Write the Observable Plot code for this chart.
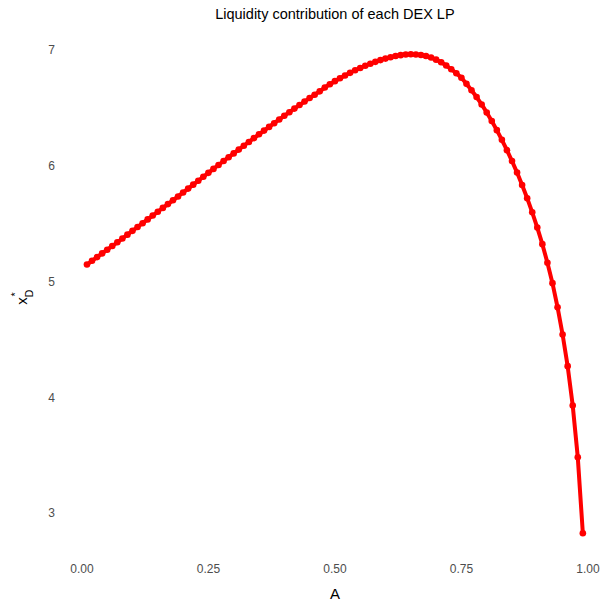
<!DOCTYPE html>
<html>
<head>
<meta charset="utf-8">
<script src="https://cdn.jsdelivr.net/npm/d3@7"></script>
<script src="https://cdn.jsdelivr.net/npm/@observablehq/plot@0.6"></script>
<style>
  html, body { margin: 0; padding: 0; background: #fff; }
  #chart { width: 600px; height: 605px; }
</style>
</head>
<body>
<div id="chart"></div>
<script>
const titleText = "Liquidity contribution of each DEX LP";
const xLabel = "A";
const xTicks = [0, 0.25, 0.5, 0.75, 1];
const yTicks = [3, 4, 5, 6, 7];

const A = [0.01,0.02,0.03,0.04,0.05,0.06,0.07,0.08,0.09,0.10,
  0.11,0.12,0.13,0.14,0.15,0.16,0.17,0.18,0.19,0.20,
  0.21,0.22,0.23,0.24,0.25,0.26,0.27,0.28,0.29,0.30,
  0.31,0.32,0.33,0.34,0.35,0.36,0.37,0.38,0.39,0.40,
  0.41,0.42,0.43,0.44,0.45,0.46,0.47,0.48,0.49,0.50,
  0.51,0.52,0.53,0.54,0.55,0.56,0.57,0.58,0.59,0.60,
  0.61,0.62,0.63,0.64,0.65,0.66,0.67,0.68,0.69,0.70,
  0.71,0.72,0.73,0.74,0.75,0.76,0.77,0.78,0.79,0.80,
  0.81,0.82,0.83,0.84,0.85,0.86,0.87,0.88,0.89,0.90,
  0.91,0.92,0.93,0.94,0.95,0.96,0.97,0.98,0.99];

const xD = [5.151,5.183,5.215,5.247,5.279,5.311,5.343,5.376,5.409,5.442,
  5.475,5.508,5.541,5.574,5.607,5.640,5.673,5.706,5.739,5.773,
  5.807,5.841,5.875,5.909,5.943,5.977,6.011,6.045,6.078,6.111,
  6.144,6.177,6.210,6.243,6.276,6.308,6.340,6.372,6.404,6.436,
  6.467,6.498,6.529,6.559,6.589,6.618,6.647,6.680,6.708,6.735,
  6.760,6.784,6.807,6.829,6.849,6.868,6.886,6.902,6.917,6.930,
  6.942,6.952,6.960,6.965,6.967,6.966,6.961,6.952,6.939,6.921,
  6.898,6.870,6.838,6.803,6.764,6.712,6.657,6.598,6.534,6.465,
  6.391,6.312,6.228,6.139,6.045,5.945,5.838,5.724,5.602,5.470,
  5.327,5.166,4.990,4.782,4.546,4.273,3.933,3.486,2.830];

const data = A.map((a, i) => ({A: a, xD: xD[i]}));

const plot = Plot.plot({
  width: 600,
  height: 605,
  marginLeft: 81.4,
  marginRight: 12.6,
  marginTop: 50,
  marginBottom: 92,
  style: {fontFamily: "'Liberation Sans', Arial, sans-serif", background: "#fff"},
  x: {domain: [0, 1]},
  y: {domain: [3, 7]},
  marks: [
    Plot.axisX({ticks: xTicks, tickFormat: d3.format(".2f"), tickSize: 0, tickPadding: 51, fontSize: 12, color: "#4d4d4d", label: null}),
    Plot.axisY({ticks: yTicks, tickFormat: d3.format("d"), tickSize: 0, tickPadding: 27, fontSize: 12, color: "#4d4d4d", label: null}),
    Plot.line(data, {x: "A", y: "xD", stroke: "#ff0000", strokeWidth: 4}),
    Plot.dot(data, {x: "A", y: "xD", fill: "#ff0000", r: 3.3}),
    Plot.text([titleText], {frameAnchor: "top", dy: -36, text: d => d, fontSize: 14.5, fill: "#000", lineAnchor: "middle"}),
    Plot.text([xLabel], {frameAnchor: "bottom", dy: 81, text: d => d, fontSize: 15, fill: "#000", lineAnchor: "middle"})
  ]
});

document.getElementById("chart").appendChild(plot);

// y-axis label: x with subscript D and superscript *
const svg = d3.select(plot);
const g = svg.append("g")
  .attr("transform", "rotate(-90)")
  .attr("font-family", "'Liberation Sans', Arial, sans-serif")
  .attr("fill", "#000");
g.append("text").attr("x", -301).attr("y", 27).attr("font-size", 15).text("x");
g.append("text").attr("x", -293.5).attr("y", 32.5).attr("font-size", 10.5).text("D");
g.append("text").attr("x", -294.5).attr("y", 19).attr("font-size", 10.5).text("*");
</script>
</body>
</html>
